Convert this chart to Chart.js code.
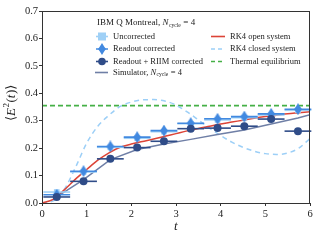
<!DOCTYPE html>
<html>
<head>
<meta charset="utf-8">
<script src="https://cdn.jsdelivr.net/npm/chart.js@4.4.1/dist/chart.umd.min.js"></script>
<style>
  html, body { margin: 0; padding: 0; background: #fff; }
  canvas { display: block; }
</style>
</head>
<body>
<canvas id="myChart" width="320" height="240"></canvas>
<script>
// ---- data ----
const tGrid = [0, 0.25, 0.5, 0.75, 1, 1.25, 1.5, 1.75, 2, 2.25, 2.5, 2.75, 3,
               3.25, 3.5, 3.75, 4, 4.25, 4.5, 4.75, 5, 5.25, 5.5, 5.75, 6];
const openSystem = [0, 0.013, 0.048, 0.087, 0.122, 0.156, 0.183, 0.203, 0.215, 0.224, 0.233, 0.243, 0.253,
                    0.263, 0.272, 0.280, 0.288, 0.295, 0.302, 0.309, 0.315, 0.320, 0.325, 0.329, 0.333];
const closedSystem = [0, 0.008, 0.05, 0.13, 0.218, 0.28, 0.32, 0.352, 0.368, 0.376, 0.377, 0.372, 0.357,
                      0.332, 0.303, 0.273, 0.246, 0.222, 0.203, 0.189, 0.18, 0.177, 0.182, 0.2, 0.235];
const thermalT = [0, 6];
const thermalE = [0.355, 0.355];

const tData = [0.33, 0.93, 1.53, 2.13, 2.73, 3.33, 3.93, 4.53, 5.13, 5.73];
const tErr = [0.3, 0.3, 0.3, 0.3, 0.3, 0.3, 0.3, 0.3, 0.3, 0.3];
const uncorrected = [0.040, 0.113, 0.203, 0.236, 0.260, 0.289, 0.303, 0.311, 0.321, 0.338];
const readout = [0.030, 0.116, 0.206, 0.240, 0.264, 0.291, 0.307, 0.315, 0.325, 0.342];
const readoutErr = [0.006, 0.007, 0.007, 0.007, 0.007, 0.007, 0.007, 0.007, 0.007, 0.007];
const riim = [0.022, 0.079, 0.161, 0.202, 0.225, 0.271, 0.273, 0.280, 0.306, 0.262];

const simT = [0.33, 0.93, 1.53, 2.13, 2.73, 3.33, 3.93, 4.53, 5.13, 5.73, 6];
const simulator = [0.022, 0.085, 0.158, 0.195, 0.215, 0.232, 0.250, 0.266, 0.288, 0.310, 0.322];

const FONT = '"Liberation Serif", "DejaVu Serif", serif';
const C_UNC = '#9fd0f6';
const C_RO = '#4289e0';
const C_RIIM = '#2f4c88';
const C_SIM = '#6f7fa6';
const C_OPEN = '#dc4437';
const C_CLOSED = '#9ccff7';
const C_THERM = '#45b046';

const pts = (xs, ys) => xs.map((x, i) => ({ x: x, y: ys[i] }));

// small 4-point star used for the readout corrected markers
function starMarker(color) {
  const c = document.createElement('canvas');
  c.width = 10; c.height = 12;
  const g = c.getContext('2d');
  const cx = 5, cy = 6, r = 2.3;
  g.fillStyle = color;
  g.beginPath();
  g.moveTo(cx, 0); g.lineTo(cx + r, cy - r); g.lineTo(9, cy); g.lineTo(cx + r, cy + r);
  g.lineTo(cx, 12); g.lineTo(cx - r, cy + r); g.lineTo(1, cy); g.lineTo(cx - r, cy - r);
  g.closePath(); g.fill();
  return c;
}
const star = starMarker(C_RO);

// error bars drawn through the chart scales, just before each dataset's markers
const errorBars = {
  id: 'errorBars',
  beforeDatasetDraw(chart, args) {
    const ds = chart.data.datasets[args.index];
    if (!ds.xerr) return;
    const { ctx, scales: { x, y } } = chart;
    ctx.save();
    ctx.strokeStyle = ds.errColor;
    ctx.lineWidth = 1.6;
    ds.data.forEach((p, k) => {
      const px = x.getPixelForValue(p.x);
      const py = y.getPixelForValue(p.y);
      ctx.beginPath();
      ctx.moveTo(x.getPixelForValue(p.x - ds.xerr[k]), py);
      ctx.lineTo(x.getPixelForValue(p.x + ds.xerr[k]), py);
      if (ds.yerr) {
        ctx.moveTo(px, y.getPixelForValue(p.y - ds.yerr[k]));
        ctx.lineTo(px, y.getPixelForValue(p.y + ds.yerr[k]));
      }
      ctx.stroke();
    });
    ctx.restore();
  }
};

function txt(ctx, s, x, y, font) {
  ctx.font = font;
  ctx.fillText(s, x, y);
  return x + ctx.measureText(s).width;
}

// frame, axis titles and the two-column legend
const decorations = {
  id: 'decorations',
  afterDraw(chart) {
    const { ctx, chartArea: a } = chart;
    ctx.save();
    ctx.strokeStyle = '#333';
    ctx.lineWidth = 1;
    ctx.strokeRect(a.left + 0.5, a.top + 0.5, a.right - a.left - 1, a.bottom - a.top);

    ctx.fillStyle = '#222';
    ctx.textBaseline = 'middle';
    ctx.textAlign = 'left';

    // x title
    txt(ctx, 't', (a.left + a.right) / 2 - 2, 227, `italic 13px ${FONT}`);

    // y title, rotated
    ctx.save();
    ctx.translate(12, 100);
    ctx.rotate(-Math.PI / 2);
    let x = -21;
    x = txt(ctx, '\u27E8', x, 0, `13px ${FONT}`);
    x = txt(ctx, 'E', x, 0, `italic 13px ${FONT}`);
    x = txt(ctx, '2', x + 0.5, -5, `9px ${FONT}`);
    x = txt(ctx, '(', x + 0.5, 0, `13px ${FONT}`);
    x = txt(ctx, 't', x, 0, `italic 13px ${FONT}`);
    x = txt(ctx, ')\u27E9', x + 0.5, 0, `13px ${FONT}`);
    ctx.restore();

    // legend title
    const f = `9px ${FONT}`;
    x = 97;
    x = txt(ctx, 'IBM Q Montreal, ', x, 23, f);
    x = txt(ctx, 'N', x, 23, `italic 9px ${FONT}`);
    x = txt(ctx, 'cycle', x + 0.5, 26, `5.5px ${FONT}`);
    txt(ctx, ' = 4', x + 0.5, 23, f);

    const lf = `8.5px ${FONT}`;
    const rows = [36.5, 49, 61.5, 72.5];
    const mx = 102;
    ctx.lineWidth = 1.6;
    // Uncorrected
    ctx.strokeStyle = C_UNC;
    ctx.beginPath(); ctx.moveTo(96, rows[0]); ctx.lineTo(108, rows[0]); ctx.stroke();
    ctx.fillStyle = C_UNC;
    ctx.fillRect(mx - 4, rows[0] - 4, 8, 8);
    // Readout corrected
    ctx.strokeStyle = C_RO;
    ctx.beginPath(); ctx.moveTo(96, rows[1]); ctx.lineTo(108, rows[1]);
    ctx.moveTo(mx, rows[1] - 3); ctx.lineTo(mx, rows[1] + 3); ctx.stroke();
    ctx.drawImage(star, mx - 5, rows[1] - 6);
    // Readout + RIIM
    ctx.strokeStyle = C_RIIM;
    ctx.beginPath(); ctx.moveTo(96, rows[2]); ctx.lineTo(108, rows[2]); ctx.stroke();
    ctx.fillStyle = C_RIIM;
    ctx.beginPath(); ctx.arc(mx, rows[2], 3.8, 0, Math.PI * 2); ctx.fill();
    // Simulator
    ctx.strokeStyle = C_SIM;
    ctx.beginPath(); ctx.moveTo(95, rows[3]); ctx.lineTo(108, rows[3]); ctx.stroke();

    ctx.fillStyle = '#222';
    txt(ctx, 'Uncorrected', 113, rows[0], lf);
    txt(ctx, 'Readout corrected', 113, rows[1], lf);
    txt(ctx, 'Readout + RIIM corrected', 113, rows[2], lf);
    x = txt(ctx, 'Simulator, ', 113, rows[3], lf);
    x = txt(ctx, 'N', x, rows[3], `italic 8.5px ${FONT}`);
    x = txt(ctx, 'cycle', x + 0.5, rows[3] + 2.5, `5.5px ${FONT}`);
    txt(ctx, ' = 4', x + 0.5, rows[3], lf);

    // right column
    const lines = [
      [C_OPEN, [], 'RK4 open system'],
      [C_CLOSED, [4, 3], 'RK4 closed system'],
      [C_THERM, [4, 3], 'Thermal equilibrium']
    ];
    lines.forEach((l, i) => {
      ctx.strokeStyle = l[0];
      ctx.setLineDash(l[1]);
      ctx.beginPath(); ctx.moveTo(211, rows[i]); ctx.lineTo(225, rows[i]); ctx.stroke();
      ctx.setLineDash([]);
      ctx.fillStyle = '#222';
      txt(ctx, l[2], 230, rows[i], lf);
    });
    ctx.restore();
  }
};

const ctx = document.getElementById('myChart').getContext('2d');

const myChart = new Chart(ctx, {
  type: 'line',
  data: {
    datasets: [
      {
        label: 'Readout + RIIM corrected',
        data: pts(tData, riim),
        showLine: false,
        pointStyle: 'circle',
        pointRadius: 4,
        backgroundColor: C_RIIM,
        borderColor: C_RIIM,
        borderWidth: 0,
        xerr: tErr,
        errColor: C_RIIM,
        order: 0
      },
      {
        label: 'Readout corrected',
        data: pts(tData, readout),
        showLine: false,
        pointStyle: star,
        xerr: tErr,
        yerr: readoutErr,
        errColor: C_RO,
        order: 1
      },
      {
        label: 'Uncorrected',
        data: pts(tData, uncorrected),
        showLine: false,
        pointStyle: 'rect',
        pointRadius: 4,
        backgroundColor: C_UNC,
        borderColor: C_UNC,
        borderWidth: 0,
        xerr: tErr,
        errColor: C_UNC,
        order: 2
      },
      {
        label: 'Simulator',
        data: pts(simT, simulator),
        borderColor: C_SIM,
        borderWidth: 1.5,
        pointRadius: 0,
        tension: 0,
        order: 3
      },
      {
        label: 'RK4 open system',
        data: pts(tGrid, openSystem),
        borderColor: C_OPEN,
        borderWidth: 1.5,
        pointRadius: 0,
        cubicInterpolationMode: 'monotone',
        order: 4
      },
      {
        label: 'RK4 closed system',
        data: pts(tGrid, closedSystem),
        borderColor: C_CLOSED,
        borderWidth: 1.5,
        borderDash: [5, 4],
        pointRadius: 0,
        cubicInterpolationMode: 'monotone',
        order: 5
      },
      {
        label: 'Thermal equilibrium',
        data: pts(thermalT, thermalE),
        borderColor: C_THERM,
        borderWidth: 1.6,
        borderDash: [5, 3],
        pointRadius: 0,
        order: 6
      }
    ]
  },
  options: {
    responsive: false,
    animation: false,
    devicePixelRatio: 1,
    layout: { padding: { top: 11, right: 10, left: 0, bottom: 0 } },
    plugins: { legend: { display: false }, tooltip: { enabled: false } },
    scales: {
      x: {
        type: 'linear',
        min: 0,
        max: 6,
        ticks: { stepSize: 1, color: '#222', padding: 2, font: { family: FONT, size: 10.5 } },
        grid: { drawOnChartArea: false, tickLength: 3, color: '#333' },
        border: { color: '#333' },
        afterFit: (s) => { s.height = 37; }
      },
      y: {
        min: 0,
        max: 0.7,
        ticks: {
          stepSize: 0.1, color: '#222', padding: 1, font: { family: FONT, size: 10.5 },
          callback: (v) => v.toFixed(1)
        },
        grid: { drawOnChartArea: false, tickLength: 3, color: '#333' },
        border: { color: '#333' },
        afterFit: (s) => { s.width = 42; }
      }
    }
  },
  plugins: [errorBars, decorations]
});
</script>
</body>
</html>
